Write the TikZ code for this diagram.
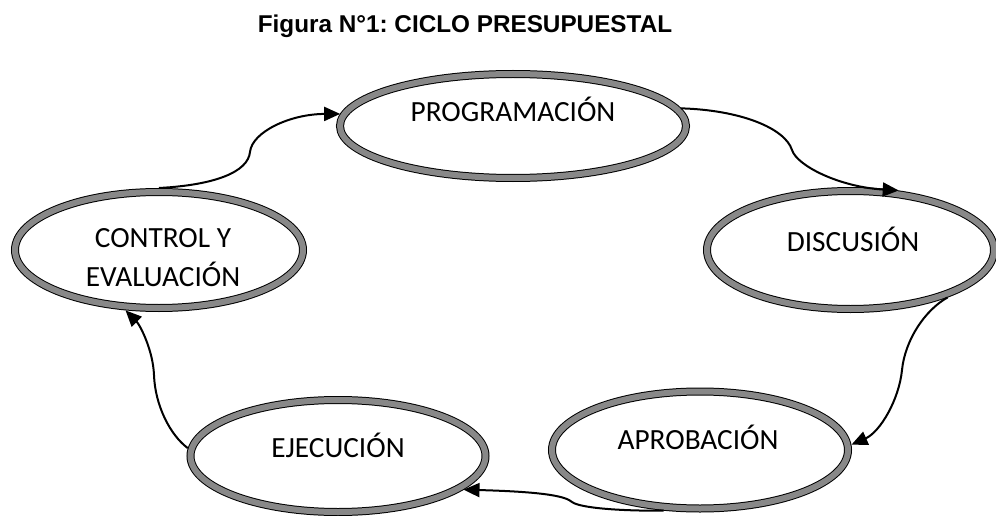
\documentclass[tikz,border=0pt]{standalone}
\usepackage{fontspec}
\setmainfont{Carlito}
\newfontfamily\titlefont{Liberation Sans}
\usetikzlibrary{shapes.geometric,arrows.meta}
\definecolor{band}{RGB}{136,136,136}
\frenchspacing
\tikzset{
  ring/.style={ellipse, draw=black, line width=8pt, fill=white, inner sep=0pt, outer sep=4pt,
    postaction={draw=band, line width=6pt}},
  lbl/.style={font=\fontsize{29.3}{39}\selectfont, align=center, inner sep=0pt, anchor=base},
  conn/.style={line width=2pt, -{Triangle[length=16pt,width=14pt]}},
}
\begin{document}
\begin{tikzpicture}[x=1pt,y=-1pt]
\useasboundingbox (0,0) rectangle (996,516);
\node[font=\titlefont\bfseries\fontsize{24.3}{28}\selectfont, anchor=base] (title) at (465,33) {Figura N°1: CICLO PRESUPUESTAL};

\node[ring, minimum width=346pt, minimum height=104pt] (prog) at (513,126) {};
\node[ring, minimum width=288pt, minimum height=116pt] (ctrl) at (159,250) {};
\node[ring, minimum width=287pt, minimum height=118pt] (disc) at (850.5,250) {};
\node[ring, minimum width=296pt, minimum height=117pt] (aprob) at (700,450) {};
\node[ring, minimum width=295pt, minimum height=112pt] (ejec) at (338,456) {};

\node[lbl] (progt) at (513,122) {PROGRAMACIÓN};
\node[lbl] (ctrlt1) at (163,247) {CONTROL Y};
\node[lbl] (ctrlt2) at (163,286) {EVALUACIÓN};
\node[lbl] (disct) at (853,251) {DISCUSIÓN};
\node[lbl] (aprobt) at (698,449) {APROBACIÓN};
\node[lbl] (eject) at (338,457) {EJECUCIÓN};

\draw[conn] (ctrl.north) .. controls (215,185) and (248,172) .. (250,152)
  .. controls (252,132) and (290,114) .. (prog.176);
\draw[conn] (prog.6) .. controls (740,110) and (785,128) .. (792,150)
  .. controls (797,166) and (840,187) .. (disc.51);
\draw[conn] (disc.-26) .. controls (925,310) and (905,340) .. (902,370)
  .. controls (899,400) and (880,432) .. (aprob.2);
\draw[conn] (aprob.239) .. controls (620,511) and (580,508) .. (572,502)
  .. controls (566,497) and (550,492) .. (ejec.-15);
\draw[conn] (ejec.177) .. controls (170,435) and (155,405) .. (154,375)
  .. controls (153,350) and (140,325) .. (ctrl.241);
\end{tikzpicture}
\end{document}
